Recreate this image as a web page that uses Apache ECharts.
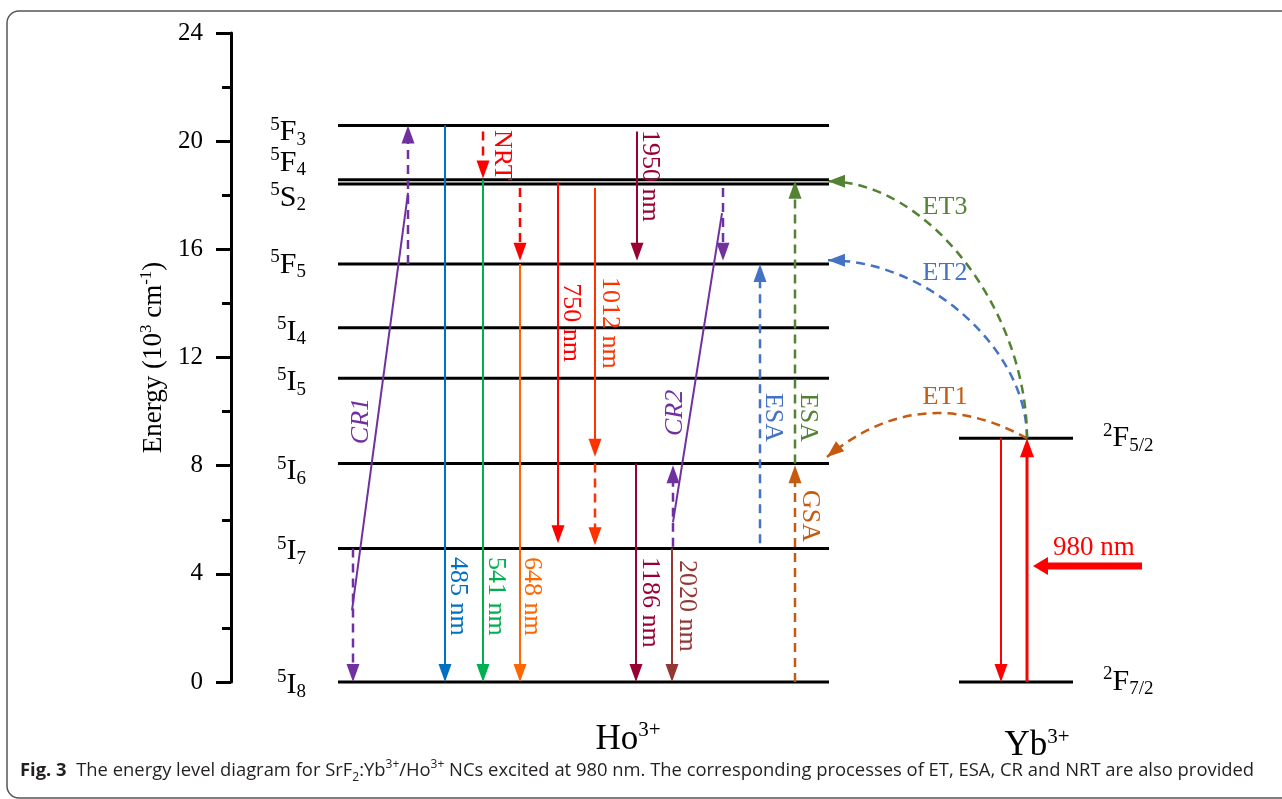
<!DOCTYPE html>
<html>
<head>
<meta charset="utf-8">
<script src="https://cdn.jsdelivr.net/npm/echarts@6/dist/echarts.min.js"></script>
<style>
html,body{margin:0;padding:0;background:#fff;}
#chart{width:1282px;height:799px;}
</style>
</head>
<body>
<div id="chart"></div>
<script>
// ================= DATA (energies in 10^3 cm^-1) =================
const hoLevelNames    = ['5F3', '5F4', '5S2', '5F5', '5I4', '5I5', '5I6', '5I7', '5I8'];
const hoLevelEnergies = [20.58, 18.57, 18.42, 15.46, 13.10, 11.23, 8.08, 4.94, 0];
const ybLevelNames    = ['2F5/2', '2F7/2'];
const ybLevelEnergies = [9.01, 0];
const yTickValues     = [0, 4, 8, 12, 16, 20, 24];

const transitionNames = ['CR1 5F5→5F3', 'CR1 5I7→5I8', '485 nm', '541 nm', 'NRT 5F3→5F4', 'NRT 5S2→5F5',
  '648 nm', '750 nm', '1012 nm', 'NRT 5I6→5I7', '1950 nm', '1186 nm', '2020 nm', 'CR2 5S2→5F5',
  'CR2 5I7→5I6', 'ESA 5I7→5F5', 'ESA 5I6→5F4', 'GSA 5I8→5I6', 'Yb 2F5/2→2F7/2', 'Yb 2F7/2→2F5/2'];
const transitionFrom = [15.46, 4.94, 20.58, 18.57, 20.36, 18.27, 15.46, 18.47, 18.27, 8.08, 20.36, 8.08, 4.94, 18.27, 5.00, 5.13, 8.08, 0, 9.01, 0];
const transitionTo   = [20.58, 0, 0, 0, 18.62, 15.58, 0, 5.13, 8.33, 5.06, 15.58, 0, 0, 15.58, 8.02, 15.46, 18.54, 8.02, 0, 9.01];

const crossRelaxNames = ['CR1', 'CR2'];
const crossRelaxFrom  = [2.65, 5.91];
const crossRelaxTo    = [18.09, 17.34];

const energyTransferNames = ['ET1', 'ET2', 'ET3'];
const energyTransferFrom  = [9.01, 9.01, 9.01];
const energyTransferTo    = [8.32, 15.60, 18.52];

const annotationTexts = ['485 nm', '541 nm', '648 nm', '750 nm', '1012 nm', '1950 nm', '1186 nm', '2020 nm',
  'NRT', 'ESA', 'ESA', 'GSA', 'CR1', 'CR2', 'ET1', 'ET2', 'ET3', '980 nm'];
const ionNames = ['Ho3+', 'Yb3+'];

// ================= LAYOUT / STYLE =================
const SERIF = '"Liberation Serif", "Times New Roman", serif';
const fnt = (size, st) => (st ? st + ' ' : '') + size + 'px ' + SERIF;
const HO_X = [107, 598], YB_X = [728, 842];
const HO_LABEL_X = 75, YB_LABEL_X = 872;
const hoLabelDy = [7, -17, 14, 1, 4, 4, 8, 3, 3];
const ybLabelDy = [0, 0];
const PURPLE = '#7030A0';
const trX = [177, 122, 214, 252, 252, 289, 289, 327, 364, 364, 406, 405, 441, 492, 442, 529, 564, 564, 770, 796];
const trColor = [PURPLE, PURPLE, '#0070C0', '#00B050', '#FF0000', '#FF0000', '#FF6600', '#FF0000', '#FF3300', '#FF3300',
  '#990033', '#990033', '#943634', PURPLE, PURPLE, '#4472C4', '#548235', '#C55A11', '#FF0000', '#FF0000'];
const trDashed = [1, 1, 0, 0, 1, 1, 0, 0, 0, 1, 0, 0, 0, 1, 1, 1, 1, 1, 0, 0];
const trWidth = [2.5, 2.5, 2, 2, 2.5, 2.5, 2, 2, 2, 2.5, 2, 2, 2, 2.5, 2.5, 2.5, 2.5, 2.5, 2, 3];
const crX = [[121, 177], [442, 491]];
const etX = [[796, 596], [796, 597], [796, 597]];
const etColor = ['#C55A11', '#4472C4', '#548235'];
const pumpX = [911, 802], pumpE = 4.29;
// annotation anchors [x unit, energy], rotation, colour, align
const annPos = [[227, 4.62], [265, 4.62], [301, 4.62], [340, 14.75], [379, 14.98], [419, 20.41], [419, 4.62], [456, 4.51],
  [271, 20.41], [542, 10.69], [577, 10.69], [579, 7.10], [130, 9.65], [444, 9.95], [714, 10.54], [714, 15.12], [714, 17.57], [863, 4.96]];
const DOWN = -Math.PI / 2, UP = Math.PI / 2;
const annRot = [DOWN, DOWN, DOWN, DOWN, DOWN, DOWN, DOWN, DOWN, DOWN, DOWN, DOWN, DOWN, UP, UP, 0, 0, 0, 0];
const annColor = ['#0070C0', '#00B050', '#FF6600', '#FF0000', '#FF3300', '#990033', '#990033', '#943634',
  '#FF0000', '#4472C4', '#548235', '#C55A11', PURPLE, PURPLE, '#C55A11', '#4472C4', '#548235', '#FF0000'];
const annAlign = ['left', 'left', 'left', 'left', 'left', 'left', 'left', 'left', 'left', 'left', 'left', 'left',
  'center', 'center', 'center', 'center', 'center', 'center'];
const annItalic = [0, 0, 0, 0, 0, 0, 0, 0, 0, 0, 0, 0, 1, 1, 0, 0, 0, 0];
const ionPos = [[397, -2.14], [806, -2.37]];

// ================= HELPERS =================
function arrowEls(p0, p1, color, width, dash, head) {
  const dx = p1[0] - p0[0], dy = p1[1] - p0[1];
  const L = Math.hypot(dx, dy) || 1, ux = dx / L, uy = dy / L;
  const hl = head[0], hw = head[1];
  const bx = p1[0] - ux * hl, by = p1[1] - uy * hl;
  const nx = -uy, ny = ux;
  return [
    {type: 'line', shape: {x1: p0[0], y1: p0[1], x2: p1[0] - ux * hl * 0.6, y2: p1[1] - uy * hl * 0.6},
      style: {stroke: color, lineWidth: width, lineDash: dash ? [9, 6] : null, fill: null}},
    {type: 'polygon', shape: {points: [[p1[0], p1[1]], [bx + nx * hw / 2, by + ny * hw / 2], [bx - nx * hw / 2, by - ny * hw / 2]]},
      style: {fill: color, stroke: null}}
  ];
}
function headEls(tip, dirx, diry, color, head) {
  const L = Math.hypot(dirx, diry) || 1, ux = dirx / L, uy = diry / L;
  const hl = head[0], hw = head[1];
  const bx = tip[0] - ux * hl, by = tip[1] - uy * hl, nx = -uy, ny = ux;
  return {type: 'polygon', shape: {points: [[tip[0], tip[1]], [bx + nx * hw / 2, by + ny * hw / 2], [bx - nx * hw / 2, by - ny * hw / 2]]},
    style: {fill: color, stroke: null}};
}
function levelRich(size, small) {
  return {
    sup: {font: fnt(small), fill: '#000', verticalAlign: 'top'},
    m: {font: fnt(size), fill: '#000', verticalAlign: 'middle', lineHeight: size + 4},
    sub: {font: fnt(small), fill: '#000', verticalAlign: 'bottom'}
  };
}

// ================= SERIES DATA =================
const levelNamesAll = hoLevelNames.concat(ybLevelNames);
const levelData = hoLevelNames.map((n, i) => [HO_X[0], HO_X[1], hoLevelEnergies[i]])
  .concat(ybLevelNames.map((n, i) => [YB_X[0], YB_X[1], ybLevelEnergies[i]]));
const transitionData = transitionNames.map((n, i) => [trX[i], transitionFrom[i], transitionTo[i]]);
const crData = crossRelaxNames.map((n, i) => [crX[i][0], crossRelaxFrom[i], crX[i][1], crossRelaxTo[i]]);
const etData = energyTransferNames.map((n, i) => [etX[i][0], energyTransferFrom[i], etX[i][1], energyTransferTo[i]]);
const annData = annotationTexts.map((t, i) => [annPos[i][0], annPos[i][1]]);
const ionData = ionNames.map((t, i) => [ionPos[i][0], ionPos[i][1]]);

// caption font fitting
const capNormal1 = '  The energy level diagram for SrF';
const capNormal2 = ' NCs excited at 980 nm. The corresponding processes of ET, ESA, CR and NRT are also provided';
const mctx = document.createElement('canvas').getContext('2d');
function mw(t, f) { mctx.font = f; return mctx.measureText(t).width; }
const CAPF = '"Open Sans", "Noto Sans", sans-serif';
const W100 = mw('Fig. 3', 'bold 100px ' + CAPF) + mw(capNormal1 + ':Yb/Ho' + capNormal2, '100px ' + CAPF)
  + mw('2', '65px ' + CAPF) + 2 * mw('3+', '65px ' + CAPF);
const capSize = Math.round(100 * 1237 / W100 * 10) / 10;

const chart = echarts.init(document.getElementById('chart'), null, {renderer: 'canvas'});
const option = {
  animation: false,
  backgroundColor: '#fff',
  grid: {left: 231, right: 51, top: 33, bottom: 117, containLabel: false},
  xAxis: {type: 'value', min: 0, max: 1000, show: false},
  yAxis: {
    type: 'value', min: yTickValues[0], max: yTickValues[yTickValues.length - 1], interval: yTickValues[1] - yTickValues[0],
    axisLine: {show: true, lineStyle: {color: '#000', width: 3}},
    axisTick: {show: true, length: 15, lineStyle: {color: '#000', width: 3}},
    minorTick: {show: true, splitNumber: 2, length: 9, lineStyle: {color: '#000', width: 3}},
    splitLine: {show: false},
    axisLabel: {color: '#000', fontFamily: SERIF, fontSize: 25, margin: 28},
    name: '{n|Energy (10}{s|3}{n| cm}{s|-1}{n|)}',
    nameLocation: 'middle', nameRotate: 90, nameGap: 60,
    nameTextStyle: {
      color: '#000', fontFamily: SERIF, fontSize: 27,
      rich: {
        n: {fontFamily: SERIF, fontSize: 27, color: '#000', lineHeight: 32, verticalAlign: 'middle'},
        s: {fontFamily: SERIF, fontSize: 17, color: '#000', verticalAlign: 'top'}
      }
    }
  },
  graphic: [
    {type: 'rect', shape: {x: 7, y: 11, width: 1330, height: 787, r: 12}, style: {fill: 'none', stroke: '#555', lineWidth: 1.5}, z: 100},
    {type: 'text', x: 20, y: 771, z: 100,
      style: {
        text: '{b|Fig. 3}{n|' + capNormal1 + '}{sb|2}{n|:Yb}{sp|3+}{n|/Ho}{sp|3+}{n|' + capNormal2 + '}',
        align: 'left', verticalAlign: 'middle',
        rich: {
          b: {font: 'bold ' + capSize + 'px ' + CAPF, fill: '#231F20', verticalAlign: 'middle', lineHeight: capSize * 1.4},
          n: {font: capSize + 'px ' + CAPF, fill: '#231F20', verticalAlign: 'middle', lineHeight: capSize * 1.4},
          sb: {font: (capSize * 0.65).toFixed(1) + 'px ' + CAPF, fill: '#231F20', verticalAlign: 'bottom'},
          sp: {font: (capSize * 0.65).toFixed(1) + 'px ' + CAPF, fill: '#231F20', verticalAlign: 'top'}
        }
      }
    }
  ],
  series: [
    { // energy levels
      type: 'custom', name: 'levels', coordinateSystem: 'cartesian2d', clip: false,
      encode: {x: [0, 1], y: 2}, data: levelData,
      renderItem: (params, api) => {
        const i = params.dataIndex;
        const e = api.value(2);
        const a = api.coord([api.value(0), e]);
        const b = api.coord([api.value(1), e]);
        const isYb = i >= hoLevelNames.length;
        const name = levelNamesAll[i];
        const lp = api.coord([isYb ? YB_LABEL_X : HO_LABEL_X, e]);
        const dy = isYb ? ybLabelDy[i - hoLevelNames.length] : hoLabelDy[i];
        return {type: 'group', children: [
          {type: 'line', shape: {x1: a[0], y1: a[1], x2: b[0], y2: b[1]}, style: {stroke: '#000', lineWidth: 3}},
          {type: 'text', x: lp[0], y: lp[1] + dy,
            style: {text: '{sup|' + name[0] + '}{m|' + name[1] + '}{sub|' + name.slice(2) + '}',
              rich: levelRich(30, 19), align: isYb ? 'left' : 'right', verticalAlign: 'middle'}}
        ]};
      }
    },
    { // vertical transitions
      type: 'custom', name: 'transitions', coordinateSystem: 'cartesian2d', clip: false,
      encode: {x: 0, y: [1, 2]}, data: transitionData,
      renderItem: (params, api) => {
        const i = params.dataIndex;
        const p0 = api.coord([api.value(0), api.value(1)]);
        const p1 = api.coord([api.value(0), api.value(2)]);
        const head = trWidth[i] >= 3 ? [19, 14] : [18, 13];
        return {type: 'group', children: arrowEls(p0, p1, trColor[i], trWidth[i], trDashed[i], head)};
      }
    },
    { // cross-relaxation slanted lines
      type: 'custom', name: 'cross relaxation', coordinateSystem: 'cartesian2d', clip: false,
      encode: {x: [0, 2], y: [1, 3]}, data: crData,
      renderItem: (params, api) => {
        const p0 = api.coord([api.value(0), api.value(1)]);
        const p1 = api.coord([api.value(2), api.value(3)]);
        return {type: 'line', shape: {x1: p0[0], y1: p0[1], x2: p1[0], y2: p1[1]}, style: {stroke: PURPLE, lineWidth: 2}};
      }
    },
    { // energy transfer curves
      type: 'custom', name: 'energy transfer', coordinateSystem: 'cartesian2d', clip: false,
      encode: {x: [0, 2], y: [1, 3]}, data: etData,
      renderItem: (params, api) => {
        const i = params.dataIndex;
        const p0 = api.coord([api.value(0), api.value(1)]);
        const p3 = api.coord([api.value(2), api.value(3)]);
        let c1, c2;
        if (i === 0) {
          const mx = (p0[0] + p3[0]) / 2, my = (p0[1] + p3[1]) / 2;
          const dx = p3[0] - p0[0], dy = p3[1] - p0[1], L = Math.hypot(dx, dy);
          const curv = 0.34;
          const cx = mx + (-dy / L) * curv * L, cy = my + (dx / L) * curv * L;
          c1 = [p0[0] + 2 / 3 * (cx - p0[0]), p0[1] + 2 / 3 * (cy - p0[1])];
          c2 = [p3[0] + 2 / 3 * (cx - p3[0]), p3[1] + 2 / 3 * (cy - p3[1])];
        } else {
          const k = 0.5;
          c1 = [p0[0], p0[1] + k * (p3[1] - p0[1])];
          c2 = [p3[0] + k * (p0[0] - p3[0]), p3[1]];
        }
        return {type: 'group', children: [
          {type: 'bezierCurve', shape: {x1: p0[0], y1: p0[1], x2: p3[0], y2: p3[1], cpx1: c1[0], cpy1: c1[1], cpx2: c2[0], cpy2: c2[1]},
            style: {stroke: etColor[i], lineWidth: 2.5, lineDash: [9, 6], fill: null}},
          headEls(p3, p3[0] - c2[0], p3[1] - c2[1], etColor[i], [17, 13])
        ]};
      }
    },
    { // 980 nm pump arrow
      type: 'custom', name: 'pump', coordinateSystem: 'cartesian2d', clip: false,
      encode: {x: [0, 1], y: 2}, data: [[pumpX[0], pumpX[1], pumpE]],
      renderItem: (params, api) => {
        const p0 = api.coord([api.value(0), api.value(2)]);
        const p1 = api.coord([api.value(1), api.value(2)]);
        return {type: 'group', children: arrowEls(p0, p1, '#FF0000', 7, 0, [15, 18])};
      }
    },
    { // annotations
      type: 'custom', name: 'annotations', coordinateSystem: 'cartesian2d', clip: false,
      encode: {x: 0, y: 1}, data: annData,
      renderItem: (params, api) => {
        const i = params.dataIndex;
        const p = api.coord([api.value(0), api.value(1)]);
        return {type: 'text', x: p[0], y: p[1], rotation: annRot[i],
          style: {text: annotationTexts[i], fill: annColor[i], font: fnt(i === 17 ? 27 : 26, annItalic[i] ? 'italic' : ''),
            align: annAlign[i], verticalAlign: 'middle'}};
      }
    },
    { // ion labels
      type: 'custom', name: 'ions', coordinateSystem: 'cartesian2d', clip: false,
      encode: {x: 0, y: 1}, data: ionData,
      renderItem: (params, api) => {
        const i = params.dataIndex;
        const p = api.coord([api.value(0), api.value(1)]);
        const name = ionNames[i];
        return {type: 'text', x: p[0], y: p[1],
          style: {text: '{m|' + name.slice(0, 2) + '}{sup|' + name.slice(2) + '}',
            rich: levelRich(35, 21), align: 'center', verticalAlign: 'middle'}};
      }
    }
  ]
};
chart.setOption(option);
</script>
</body>
</html>
